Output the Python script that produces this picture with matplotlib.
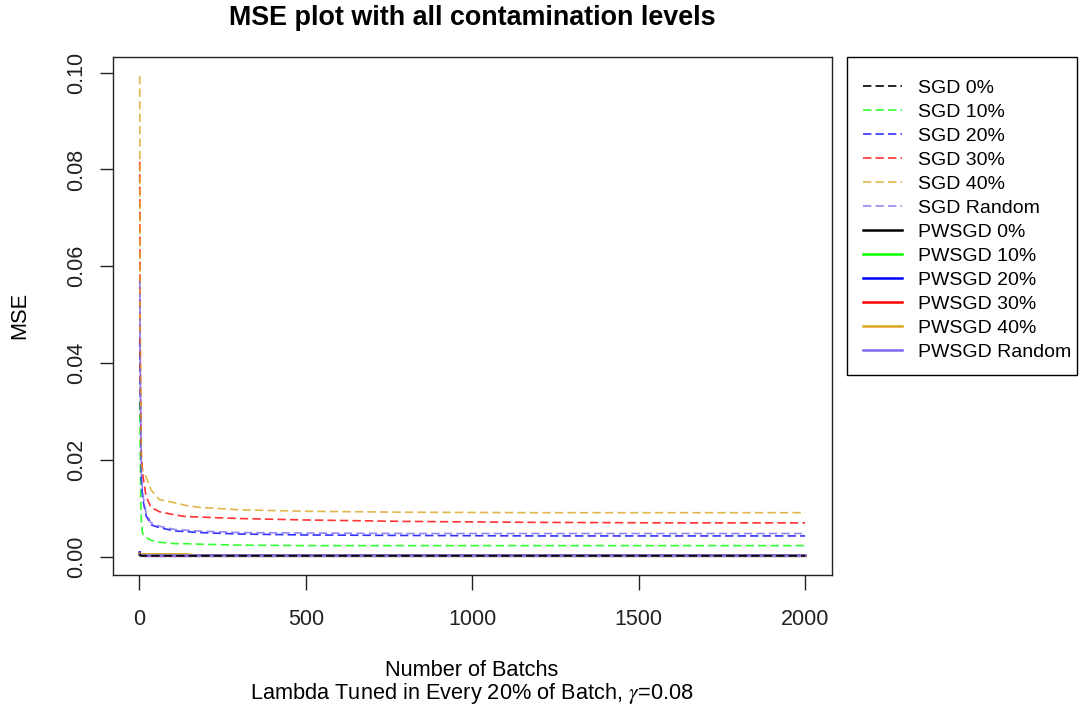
"""
MSE curves for plain SGD and PWSGD at every contamination level.
"""
import matplotlib
matplotlib.use("Agg")
import matplotlib.pyplot as plt
from matplotlib.patches import Rectangle

plt.rcParams['font.family'] = ['Liberation Sans', 'DejaVu Sans']
plt.rcParams['mathtext.fontset'] = 'stix'

# batch index where each MSE value was recorded
batches = [1, 2, 4, 6, 10, 20, 35, 60, 110, 140, 180, 300, 500, 800, 1200, 1600, 2000]

# plain SGD
sgd_0 = [0.0006, 0.0004, 0.0003, 0.0002, 0.0002, 0.0002, 0.0002, 0.0002, 0.0002,
         0.0002, 0.0002, 0.0002, 0.0002, 0.0002, 0.0002, 0.0002, 0.0002]
sgd_10 = [0.032, 0.0255, 0.012, 0.0070, 0.0048, 0.0040, 0.0034, 0.0030, 0.0027,
          0.0027, 0.0026, 0.0024, 0.0023, 0.0023, 0.0023, 0.0023, 0.0023]
sgd_20 = [0.045, 0.035, 0.0276, 0.016, 0.012, 0.0085, 0.0066, 0.0060, 0.0053,
          0.0052, 0.0050, 0.0047, 0.0045, 0.0044, 0.0043, 0.0043, 0.0043]
sgd_30 = [0.0816, 0.050, 0.030, 0.021, 0.017, 0.0125, 0.0102, 0.0093, 0.0086,
          0.0083, 0.0082, 0.0079, 0.0076, 0.0073, 0.0071, 0.0070, 0.0070]
sgd_40 = [0.0993, 0.057, 0.033, 0.0190, 0.0178, 0.0165, 0.0138, 0.0118, 0.0111,
          0.0106, 0.0102, 0.0097, 0.0094, 0.0092, 0.0091, 0.0091, 0.0091]
sgd_rand = [0.057, 0.042, 0.030, 0.017, 0.013, 0.0090, 0.0070, 0.0063, 0.0056,
            0.0055, 0.0053, 0.0050, 0.0049, 0.0048, 0.0048, 0.0048, 0.0048]

# PWSGD
pw_0 = [0.0004, 0.0003, 0.0002, 0.0002, 0.0002, 0.0002, 0.0002, 0.0002, 0.0002,
        0.0002, 0.0002, 0.0002, 0.0002, 0.0002, 0.0002, 0.0002, 0.0002]
pw_10 = [0.0005, 0.0003, 0.0002, 0.0002, 0.0002, 0.0002, 0.0002, 0.0002, 0.0002,
         0.0002, 0.0002, 0.0002, 0.0002, 0.0002, 0.0002, 0.0002, 0.0002]
pw_20 = [0.0009, 0.0006, 0.0004, 0.0003, 0.0003, 0.0002, 0.0002, 0.0002, 0.0002,
         0.0002, 0.0002, 0.0002, 0.0002, 0.0002, 0.0002, 0.0002, 0.0002]
pw_30 = [0.0006, 0.0004, 0.0003, 0.0003, 0.0002, 0.0002, 0.0002, 0.0002, 0.0002,
         0.0002, 0.0002, 0.0002, 0.0002, 0.0002, 0.0002, 0.0002, 0.0002]
pw_40 = [0.0006, 0.0005, 0.0005, 0.0005, 0.0005, 0.0005, 0.0005, 0.0005, 0.0005,
         0.0005, 0.0002, 0.0002, 0.0002, 0.0002, 0.0002, 0.0002, 0.0002]
pw_rand = [0.0004, 0.0003, 0.00025, 0.00025, 0.00025, 0.00025, 0.00025, 0.00025, 0.00025,
           0.00025, 0.00025, 0.00025, 0.00025, 0.00025, 0.00025, 0.00025, 0.00025]

levels = ['0%', '10%', '20%', '30%', '40%', 'Random']
colors = ['black', '#00FF00', '#0000FF', '#FF0000', '#DAA520', '#7B68EE']
sgd_series = [sgd_0, sgd_10, sgd_20, sgd_30, sgd_40, sgd_rand]
pw_series = [pw_0, pw_10, pw_20, pw_30, pw_40, pw_rand]

fig = plt.figure(figsize=(10.8, 7.1), dpi=100)
ax = fig.add_axes([0.1044, 0.1906, 0.6657, 0.7296])

pw_lines = []
for lvl, col, ys in zip(levels, colors, pw_series):
    ln, = ax.plot(batches, ys, color=col, lw=1.8, label='PWSGD ' + lvl)
    pw_lines.append(ln)

sgd_lines = []
for lvl, col, ys in zip(levels, colors, sgd_series):
    ln, = ax.plot(batches, ys, color=col, lw=1.2, dashes=(5, 2.5),
                  alpha=1.0 if col == 'black' else 0.8, label='SGD ' + lvl)
    sgd_lines.append(ln)

ax.set_xlim(-80, 2080)
ax.set_ylim(-0.0037, 0.1033)
ax.set_xticks([0, 500, 1000, 1500, 2000])
ax.set_yticks([0.0, 0.02, 0.04, 0.06, 0.08, 0.10])
ax.set_yticklabels(['0.00', '0.02', '0.04', '0.06', '0.08', '0.10'],
                   rotation=90, va='center')
ax.tick_params(axis='x', length=10.5, width=1.0, pad=14, labelsize=15.5, colors='#222222')
ax.tick_params(axis='y', length=9.6, width=1.0, pad=9, labelsize=15.5, colors='#222222')
for sp in ax.spines.values():
    sp.set_linewidth(1.0)
    sp.set_color('#222222')
fig.text(20 / 1080, 0.5 * (0.1906 + 0.92), 'MSE', rotation=90,
         ha='center', va='center', fontsize=15.7)

fig.text(0.437, 1 - 18 / 710, 'MSE plot with all contamination levels',
         ha='center', va='center', fontsize=19.4, fontweight='bold')
fig.text(0.437, 1 - 671 / 710, 'Number of Batchs', ha='center', va='center', fontsize=15.7)
fig.text(0.437, 1 - 693 / 710, r'Lambda Tuned in Every 20% of Batch, $\gamma$=0.08',
         ha='center', va='center', fontsize=15.7)

# legend entries without a frame, box drawn separately
leg = fig.legend(handles=sgd_lines + pw_lines, loc='upper left',
                 bbox_to_anchor=(863 / 1080, 1 - 79 / 710), borderaxespad=0,
                 fontsize=14, frameon=False, borderpad=0, labelspacing=0.33,
                 handlelength=2.0, handletextpad=0.85)
for h in leg.legend_handles:
    h.set_alpha(1.0 if h.get_color() == 'black' else h.get_alpha())
fig.patches.append(Rectangle((847 / 1080, 1 - 375 / 710), 230 / 1080, 318 / 710,
                             transform=fig.transFigure, fill=False,
                             edgecolor='black', linewidth=1.0))

fig.savefig('out.png', dpi=100)
